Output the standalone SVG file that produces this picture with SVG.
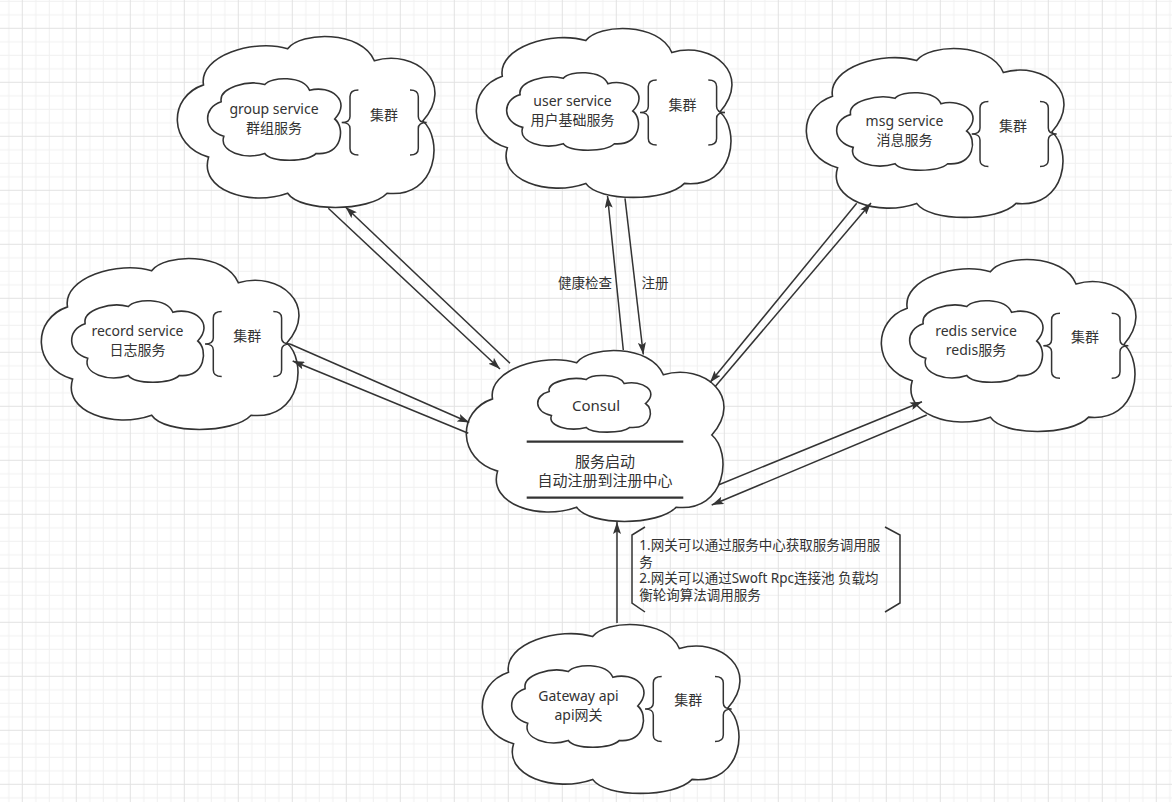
<svg xmlns="http://www.w3.org/2000/svg" xmlns:xlink="http://www.w3.org/1999/xlink" width="1172" height="802" viewBox="0 0 1172 802">
<style>
.cloud{fill:#fff;stroke:#333;stroke-width:1.6}
.lbl{font-family:"Noto Sans","Noto Sans CJK SC",sans-serif;font-size:14px;fill:#333;text-anchor:middle}
.big{font-size:15px}
.small{font-size:13.5px}
.note{font-family:"Noto Sans","Noto Sans CJK SC",sans-serif;font-size:13.5px;fill:#333}
.brace{fill:none;stroke:#333;stroke-width:1.5}
.sep{stroke:#333;stroke-width:2.2}
.edge{fill:none;stroke:#333;stroke-width:1.5;marker-end:url(#arr)}
</style>
<defs>
<pattern id="grid" patternUnits="userSpaceOnUse" x="21.8" y="27.8" width="54" height="54">
<path d="M14,0V54M27.5,0V54M41,0V54M0,14H54M0,27.5H54M0,41H54" stroke="#f0f0f0" stroke-width="1" fill="none"/>
<path d="M0.5,0V54M0,0.5H54" stroke="#e2e2e2" stroke-width="1" fill="none"/>
</pattern>
<path id="cloud" vector-effect="non-scaling-stroke" d="M10,29 C8,12 30,2 43,8 C48,-2 72,-3 77,15 C93,8 109,28 96,50 C104,60 102,95 82,92 C75,103 48,103 43,92 C28,100 8,90 12,71 C-4,64 -4,36 10,29 Z"/>
<path id="lb" d="M16.7,-32.5 Q8.3,-32.5 8.3,-26 L8.3,-6 Q8.3,0 0,0 Q8.3,0 8.3,6 L8.3,26 Q8.3,32.5 16.7,32.5"/>
<path id="rb" d="M0,-32.5 Q8.3,-32.5 8.3,-26 L8.3,-6 Q8.3,0 16.7,0 Q8.3,0 8.3,6 L8.3,26 Q8.3,32.5 0,32.5"/>
<marker id="arr" markerUnits="userSpaceOnUse" markerWidth="12" markerHeight="8" viewBox="0 0 12 8" refX="12" refY="4" orient="auto">
<path d="M0,0 L12,4 L0,8 L2.5,4 Z" fill="#333"/>
</marker>
</defs>
<rect width="1172" height="802" fill="#fff"/>
<rect width="1172" height="802" fill="url(#grid)"/>

<g id="group-service">
<use href="#cloud" class="cloud" transform="translate(178,35) scale(2.55,1.72)"/>
<use href="#cloud" class="cloud" transform="translate(208,78) scale(1.32,0.82)"/>
<text class="lbl" x="274" y="114">group service</text>
<text class="lbl" x="274" y="133">群组服务</text>
<use href="#lb" class="brace" x="341.7" y="122.5"/>
<use href="#rb" class="brace" x="410" y="122.5"/>
<text class="lbl" x="384" y="120.3">集群</text>
</g>

<g id="user-service">
<use href="#cloud" class="cloud" transform="translate(477,27) scale(2.53,1.70)"/>
<use href="#cloud" class="cloud" transform="translate(507,72) scale(1.31,0.78)"/>
<text class="lbl" x="572.5" y="106">user service</text>
<text class="lbl" x="572.5" y="125">用户基础服务</text>
<use href="#lb" class="brace" x="640" y="112.5"/>
<use href="#rb" class="brace" x="708.3" y="112.5"/>
<text class="lbl" x="682.5" y="110.3">集群</text>
</g>

<g id="msg-service">
<use href="#cloud" class="cloud" transform="translate(807,47) scale(2.55,1.70)"/>
<use href="#cloud" class="cloud" transform="translate(837,92) scale(1.35,0.78)"/>
<text class="lbl" x="904.5" y="126">msg service</text>
<text class="lbl" x="904.5" y="145">消息服务</text>
<use href="#lb" class="brace" x="971.7" y="134"/>
<use href="#rb" class="brace" x="1040" y="134"/>
<text class="lbl" x="1013" y="131.3">集群</text>
</g>

<g id="record-service">
<use href="#cloud" class="cloud" transform="translate(42,257) scale(2.55,1.72)"/>
<use href="#cloud" class="cloud" transform="translate(72,300) scale(1.31,0.82)"/>
<text class="lbl" x="137.5" y="336">record service</text>
<text class="lbl" x="137.5" y="355">日志服务</text>
<use href="#lb" class="brace" x="205" y="344"/>
<use href="#rb" class="brace" x="273.3" y="344"/>
<text class="lbl" x="247.3" y="341.3">集群</text>
</g>

<g id="redis-service">
<use href="#cloud" class="cloud" transform="translate(882,258) scale(2.52,1.73)"/>
<use href="#cloud" class="cloud" transform="translate(910,300) scale(1.32,0.82)"/>
<text class="lbl" x="976" y="336">redis service</text>
<text class="lbl" x="976" y="355">redis服务</text>
<use href="#lb" class="brace" x="1043.3" y="345.8"/>
<use href="#rb" class="brace" x="1111.7" y="345.8"/>
<text class="lbl" x="1085" y="342">集群</text>
</g>

<g id="gateway-api">
<use href="#cloud" class="cloud" transform="translate(483,623) scale(2.55,1.70)"/>
<use href="#cloud" class="cloud" transform="translate(512,665) scale(1.31,0.82)"/>
<text class="lbl" x="578.5" y="701">Gateway api</text>
<text class="lbl" x="578.5" y="720">api网关</text>
<use href="#lb" class="brace" x="645" y="709"/>
<use href="#rb" class="brace" x="715" y="709"/>
<text class="lbl" x="688.3" y="705.3">集群</text>
</g>

<g id="consul">
<use href="#cloud" class="cloud" transform="translate(467,349) scale(2.55,1.72)"/>
<use href="#cloud" class="cloud" transform="translate(538,375) scale(1.12,0.57)"/>
<text class="lbl big" x="596" y="410.5">Consul</text>
<line class="sep" x1="526.7" y1="441.7" x2="683.3" y2="441.7"/>
<text class="lbl big" x="605" y="467">服务启动</text>
<text class="lbl big" x="605" y="486">自动注册到注册中心</text>
<line class="sep" x1="526.7" y1="497.7" x2="683.3" y2="497.7"/>
</g>

<g id="gateway-note">
<path class="brace" d="M645,527 L632,535 L632,603 L645,612" stroke-width="2"/>
<path class="brace" d="M885,527 L900,535 L900,603 L885,612" stroke-width="2"/>
<text class="note" x="639.3" y="550">1.网关可以通过服务中心获取服务调用服</text>
<text class="note" x="639.3" y="566.8">务</text>
<text class="note" x="639.3" y="583.4">2.网关可以通过Swoft Rpc连接池 负载均</text>
<text class="note" x="639.3" y="600">衡轮询算法调用服务</text>
</g>

<g id="connectors">
<line class="edge" x1="510" y1="363.3" x2="345.5" y2="207"/>
<line class="edge" x1="328.3" y1="208.3" x2="500" y2="369"/>
<line class="edge" x1="290" y1="344" x2="469.3" y2="422.5"/>
<line class="edge" x1="468.3" y1="433.3" x2="292.7" y2="361"/>
<line class="edge" x1="623.3" y1="350" x2="607.5" y2="196"/>
<line class="edge" x1="625" y1="198.3" x2="643.3" y2="354.5"/>
<line class="edge" x1="856.7" y1="203.3" x2="710" y2="382.5"/>
<line class="edge" x1="715" y1="386.7" x2="871" y2="203"/>
<line class="edge" x1="718.3" y1="485" x2="922" y2="401.7"/>
<line class="edge" x1="926.7" y1="415" x2="711.7" y2="505"/>
<line class="edge" x1="617" y1="623" x2="617" y2="522"/>
<text class="lbl small" x="585" y="287.5">健康检查</text>
<text class="lbl small" x="655" y="287.5">注册</text>
</g>
</svg>
